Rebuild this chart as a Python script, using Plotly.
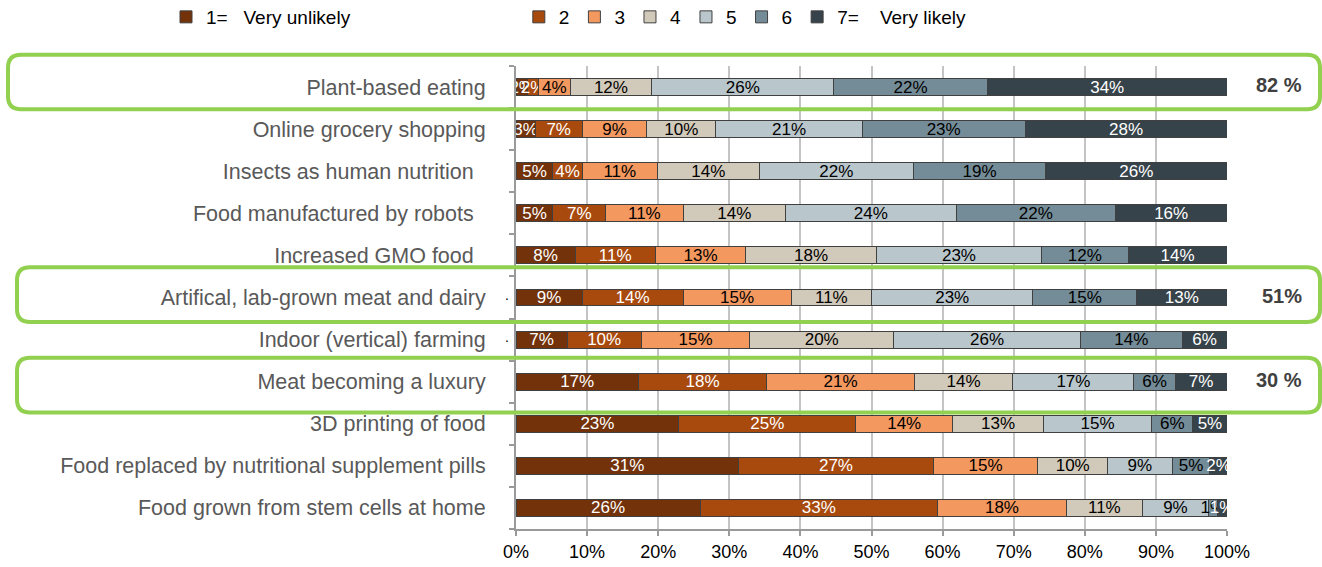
import plotly.graph_objects as go

categories = [
    "Plant-based eating",
    "Online grocery shopping",
    "Insects as human nutrition",
    "Food manufactured by robots",
    "Increased GMO food",
    "Artifical, lab-grown meat and dairy",
    "Indoor (vertical) farming",
    "Meat becoming a luxury",
    "3D printing of food",
    "Food replaced by nutritional supplement pills",
    "Food grown from stem cells at home",
]

NB = "&nbsp;"
scale_names = [
    "1=" + NB * 3 + "Very unlikely" + NB * 31,
    "2", "3", "4", "5", "6",
    "7=" + NB * 4 + "Very likely",
]

# share of answers (%) for each point of the 1-7 scale, in category order
s1 = [1.6, 2.7, 5.2, 5.2, 8.3, 9.3, 7.2, 17.2, 22.9, 31.3, 25.9]
s2 = [1.6, 6.6, 4.1, 7.4, 11.3, 14.2, 10.4, 18.1, 24.9, 27.4, 33.4]
s3 = [4.4, 9.1, 10.6, 10.9, 12.7, 15.2, 15.3, 20.7, 13.6, 14.7, 18.1]
s4 = [11.5, 9.7, 14.3, 14.4, 18.4, 11.3, 20.2, 13.9, 12.8, 9.8, 10.7]
s5 = [25.6, 20.6, 21.7, 24.0, 23.2, 22.7, 26.3, 17.0, 15.2, 9.1, 9.3]
s6 = [21.6, 22.9, 18.6, 22.4, 12.2, 14.6, 14.3, 5.8, 5.8, 5.3, 1.2]
s7 = [33.7, 28.4, 25.5, 15.7, 13.9, 12.7, 6.3, 7.3, 4.8, 2.4, 1.4]
series = [s1, s2, s3, s4, s5, s6, s7]

x_ticks = list(range(0, 101, 10))

# rows picked out with a green frame and the 5-7 ("likely") total
highlight_rows = ["Plant-based eating", "Artifical, lab-grown meat and dairy", "Meat becoming a luxury"]
highlight_sep = [" ", "", " "]

colors = ["#73320a", "#a8490d", "#f3985f", "#d1c9b9", "#b9c6cc", "#748c97", "#37434a"]
text_colors = ["white", "white", "black", "black", "black", "black", "white"]

# plot-area geometry in pixels
W, H = 1322, 567
L, R, T, B = 516, 95, 66, 38
pw, ph = W - L - R, H - T - B

# a few labels carry trailing padding in the row captions
padded = {"Insects as human nutrition", "Food manufactured by robots", "Increased GMO food"}
tick_text = [c + NB * 2 if c in padded else c for c in categories]

fig = go.Figure()
for k, vals in enumerate(series):
    fig.add_trace(go.Bar(
        y=categories, x=vals, orientation="h", name=scale_names[k],
        marker=dict(color=colors[k], line=dict(color="#404040", width=1)),
        texttemplate="%{x:.0f}%", textposition="inside", insidetextanchor="middle",
        textangle=0, constraintext="none",
        textfont=dict(family="Liberation Sans Narrow, Liberation Sans, Arial", size=17,
                      color=text_colors[k]),
        hoverinfo="skip",
    ))

n = len(categories)


def ypaper(pos):
    # category index -> paper y for the reversed range [n-0.5, -0.5]
    return (n - 0.5 - pos) / n


rx, ry = 13 / pw, 13 / ph
half = 0.65
frame_left = [(8 - L) / pw, (17 - L) / pw, (17 - L) / pw]
frame_shift = [-0.12, -0.07, 0.08]
frame_right = (1320 - L) / pw

shapes = []
for j, row in enumerate(highlight_rows):
    i = categories.index(row) + frame_shift[j]
    x0, x1 = frame_left[j], frame_right
    y0, y1 = ypaper(i + half), ypaper(i - half)
    path = (f"M{x0 + rx},{y1} L{x1 - rx},{y1} Q{x1},{y1} {x1},{y1 - ry} "
            f"L{x1},{y0 + ry} Q{x1},{y0} {x1 - rx},{y0} L{x0 + rx},{y0} "
            f"Q{x0},{y0} {x0},{y0 + ry} L{x0},{y1 - ry} Q{x0},{y1} {x0 + rx},{y1} Z")
    shapes.append(dict(type="path", path=path, xref="paper", yref="paper",
                       line=dict(color="#92d050", width=4), layer="above"))

annotations = []
for j, row in enumerate(highlight_rows):
    i = categories.index(row)
    total = sum(round(series[k][i]) for k in (4, 5, 6))
    annotations.append(dict(
        text=f"<b>{total}{highlight_sep[j]}%</b>", xref="paper", yref="paper",
        x=(1304 - L) / pw, y=ypaper(i), xanchor="right", yanchor="middle",
        showarrow=False, yshift=2,
        font=dict(family="Liberation Sans, Arial", size=20, color="#404040"),
    ))

# stray points left of two bars
for row in ["Artifical, lab-grown meat and dairy", "Indoor (vertical) farming"]:
    i = categories.index(row)
    annotations.append(dict(
        text=".", xref="paper", yref="paper", x=(507 - L) / pw, y=ypaper(i),
        xanchor="center", yanchor="middle", showarrow=False, yshift=3,
        font=dict(family="Liberation Sans, Arial", size=14, color="black"),
    ))

fig.update_layout(
    width=W, height=H,
    margin=dict(l=L, r=R, t=T, b=B, autoexpand=False),
    barmode="stack", bargap=0.6,
    plot_bgcolor="white", paper_bgcolor="white",
    font=dict(family="Liberation Sans, Arial", color="#595959"),
    showlegend=True,
    xaxis=dict(
        range=[0, 100], tickvals=x_ticks, ticktext=[f"{v}%" for v in x_ticks],
        showgrid=True, gridcolor="#c4c4c4", gridwidth=2,
        showline=True, linecolor="#9a9a9a", linewidth=2,
        ticks="outside", ticklen=5, tickcolor="#9a9a9a", tickwidth=2,
        tickfont=dict(family="Liberation Sans Narrow, Liberation Sans, Arial", size=18, color="black"),
        zeroline=False, fixedrange=True,
    ),
    yaxis=dict(
        categoryorder="array", categoryarray=categories,
        tickvals=categories, ticktext=tick_text,
        range=[n - 0.5, -0.5],
        showgrid=False, showline=True, linecolor="#9a9a9a", linewidth=2,
        ticks="outside", tickson="boundaries", ticklen=5, tickcolor="#9a9a9a", tickwidth=2,
        tickfont=dict(family="Liberation Sans, Arial", size=21.5, color="#595959"),
        ticklabelstandoff=24, fixedrange=True,
    ),
    legend=dict(
        orientation="h", x=(166 - L) / pw, y=(H - B - 17) / ph, xanchor="left", yanchor="middle",
        font=dict(family="Liberation Sans, Arial", size=19, color="black"),
        bgcolor="rgba(0,0,0,0)", itemwidth=30, traceorder="normal",
    ),
    shapes=shapes,
    annotations=annotations,
)

fig.write_html("out.html", config={"displayModeBar": False})
